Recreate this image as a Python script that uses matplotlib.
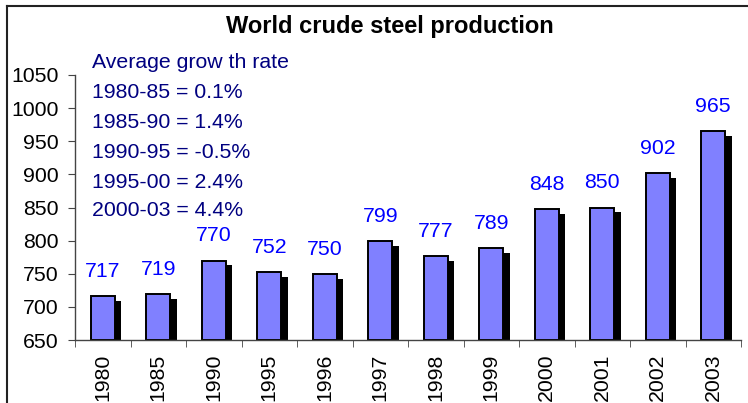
import numpy as np
import matplotlib.pyplot as plt
from matplotlib.lines import Line2D

plt.rcParams['font.family'] = ['Liberation Sans', 'DejaVu Sans']

years = ['1980', '1985', '1990', '1995', '1996', '1997', '1998', '1999',
         '2000', '2001', '2002', '2003']
production = [717, 719, 770, 752, 750, 799, 777, 789, 848, 850, 902, 965]
growth_lines = ['Average grow th rate', '1980-85 = 0.1%', '1985-90 = 1.4%',
                '1990-95 = -0.5%', '1995-00 = 2.4%', '2000-03 = 4.4%']

fig = plt.figure(figsize=(7.48, 4.03), dpi=100)
ax = fig.add_axes([75/748, 1-340/403, 666/748, 265/403])

x = np.arange(len(years))
w = 0.44
base = 650
vals = np.array(production)
# shadow behind each bar
ax.bar(x + 0.117, vals - 7.5 - base, width=w, bottom=base, color='black', zorder=1)
ax.bar(x, vals - base, width=w, bottom=base, color='#8080ff', edgecolor='black',
       linewidth=1.4, zorder=2)

for xi, v in zip(x, production):
    ax.annotate(str(v), (xi, v), xytext=(0, 13.7), textcoords='offset points',
                ha='center', va='baseline', color='#0000ff', fontsize=15.3)

ax.set_xlim(-0.5, 11.5)
ax.set_ylim(650, 1050)
ax.set_yticks(np.arange(650, 1051, 50))
ax.set_xticks(x)
ax.set_xticklabels(years, rotation=90)
ax.set_xticks(np.arange(-0.5, 12, 1), minor=True)
ax.tick_params(axis='x', which='major', length=0, pad=10, labelsize=15.3)
ax.tick_params(axis='x', which='minor', length=5, color='#444444')
ax.tick_params(axis='y', length=5, pad=7, labelsize=15.3, color='#444444')
for s in ['top', 'right']:
    ax.spines[s].set_visible(False)
for s in ['left', 'bottom']:
    ax.spines[s].set_color('#444444')
    ax.spines[s].set_linewidth(1.0)
ax.patch.set_visible(False)

fig.text(390/748, 1-27/403, 'World crude steel production', ha='center', va='center',
         fontsize=17, fontweight='bold')

ys = [62, 93, 122, 152, 182, 211]
for t, yy in zip(growth_lines, ys):
    fig.text(92/748, 1-yy/403, t, ha='left', va='center', color='#000080', fontsize=15.3)

# figure border (top and left visible)
fig.add_artist(Line2D([7/748, 7/748], [0, 1-6/403], color='#222222', lw=1.5,
                      transform=fig.transFigure))
fig.add_artist(Line2D([7/748, 1], [1-6/403, 1-6/403], color='#222222', lw=1.5,
                      transform=fig.transFigure))

plt.savefig('out.png', dpi=100)
